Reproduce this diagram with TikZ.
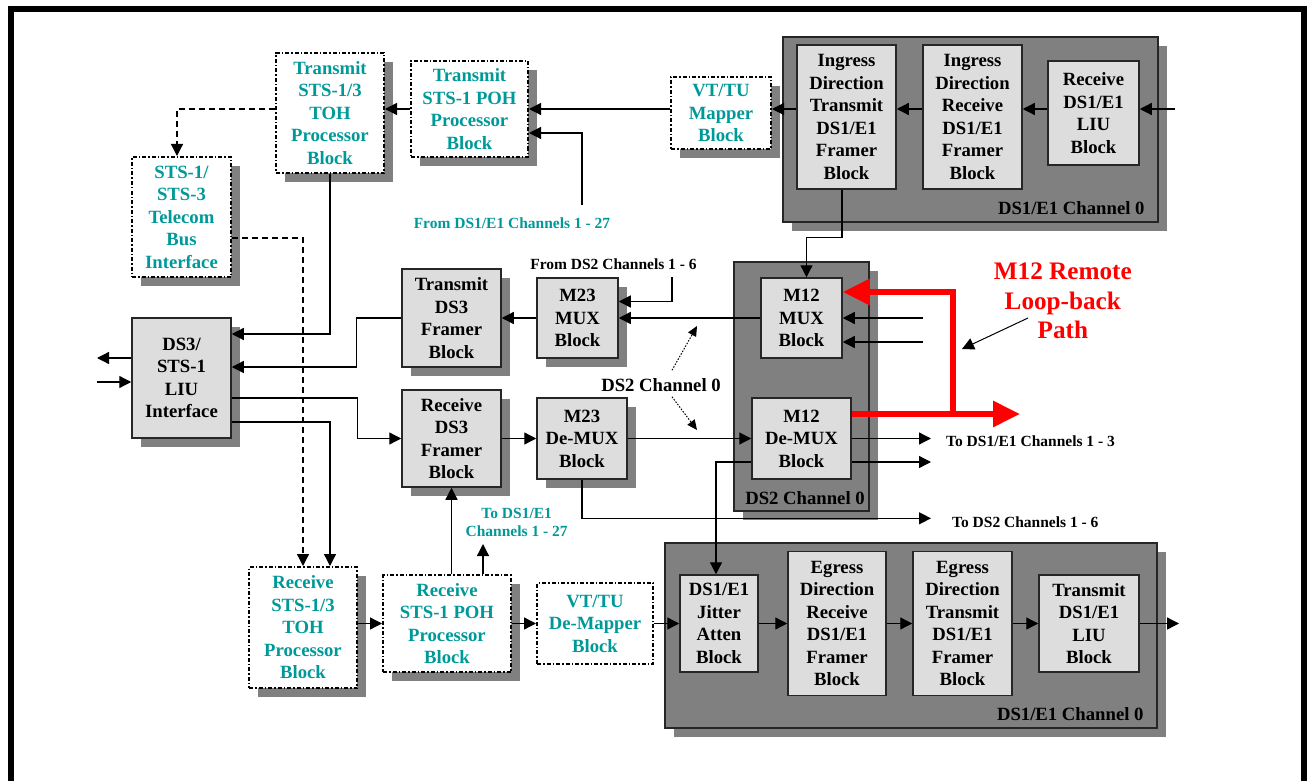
\documentclass[tikz,border=0pt]{standalone}
\usepackage{fontspec}
\setmainfont{Liberation Serif}
\usetikzlibrary{arrows.meta,shadows}

\definecolor{boxgray}{RGB}{221,221,221}
\definecolor{grpgray}{RGB}{128,128,128}
\definecolor{telteal}{RGB}{0,153,153}

\newcommand{\blockfont}{\fontsize{18.7}{22.5}\selectfont\bfseries}
\newcommand{\notefont}{\fontsize{15.5}{18.7}\selectfont\bfseries}
\newcommand{\loopfont}{\fontsize{25.2}{29.5}\selectfont\bfseries}

\tikzset{
  blk/.style={draw=black!85, line width=1.5pt, fill=boxgray, font=\blockfont, align=center, inner sep=0pt},
  tblk/.style={draw=black, line width=2pt, dash pattern=on 4pt off 2pt on 1.5pt off 2pt, fill=white,
    text=telteal, font=\blockfont, align=center, inner sep=0pt},
  shd/.style={drop shadow={shadow xshift=9pt, shadow yshift=-9pt, fill=grpgray, opacity=1}},
  grp/.style={draw=black!85, line width=1.5pt, fill=grpgray},
  lbl/.style={font=\blockfont, inner sep=0pt},
  note/.style={font=\notefont, inner sep=0pt},
  arr/.style={line width=1.3pt, -{Triangle[length=12pt,width=12pt]}},
  dasharr/.style={arr, dash pattern=on 6pt off 4pt},
  dotarr/.style={line width=1pt, dash pattern=on 1.5pt off 1.5pt, -{Triangle[length=10pt,width=9pt]}},
  loopline/.style={red, line width=6pt, -{Triangle[length=27pt,width=25pt]}},
}

\begin{document}
\begin{tikzpicture}[x=1pt,y=-1pt]
\useasboundingbox (0,0) rectangle (1309,781);
\draw[line width=6pt] (11,781) -- (11,9) -- (1304,9) -- (1304,781);

% ingress DS1/E1 channel
\node[grp, shd, minimum width=375pt, minimum height=185pt] (ingrp) at (970.5,129.5) {};
\node[lbl, anchor=east] (inglbl) at ([xshift=-14pt,yshift=15pt]ingrp.south east) {DS1/E1 Channel 0};
\node[blk, minimum width=99pt, minimum height=144pt] (ingtx) at (846.5,117) {Ingress\\Direction\\Transmit\\DS1/E1\\Framer\\Block};
\node[blk, minimum width=99pt, minimum height=144pt] (ingrx) at (972.5,117) {Ingress\\Direction\\Receive\\DS1/E1\\Framer\\Block};
\node[blk, minimum width=91pt, minimum height=104pt] (rxliu) at (1093.5,113) {Receive\\DS1/E1\\LIU\\Block};

% SONET side
\node[tblk, shd, minimum width=108pt, minimum height=120pt] (txtoh) at (330,113) {Transmit\\STS-1/3\\TOH\\Processor\\Block};
\node[tblk, shd, minimum width=99pt, minimum height=120pt] (bus) at (181.5,217) {STS-1/\\STS-3\\Telecom\\Bus\\Interface};
\node[tblk, shd, minimum width=117pt, minimum height=96pt] (txpoh) at (469.5,109) {Transmit\\STS-1 POH\\Processor\\Block};
\node[tblk, shd, minimum width=100pt, minimum height=72pt] (mapper) at (721,113) {VT/TU\\Mapper\\Block};
\node[tblk, shd, minimum width=108pt, minimum height=121pt] (rxtoh) at (303,627.5) {Receive\\STS-1/3\\TOH\\Processor\\Block};
\node[tblk, shd, minimum width=128pt, minimum height=97pt] (rxpoh) at (447,623.5) {Receive\\STS-1 POH\\Processor\\Block};
\node[tblk, minimum width=116pt, minimum height=81pt] (demapper) at (595,623.5) {VT/TU\\De-Mapper\\Block};

% DS3 side
\node[blk, shd, minimum width=99pt, minimum height=120pt] (liu) at (181.5,378) {DS3/\\STS-1\\LIU\\Interface};
\node[blk, shd, minimum width=99pt, minimum height=98pt] (txds3) at (451.5,318) {Transmit\\DS3\\Framer\\Block};
\node[blk, shd, minimum width=99pt, minimum height=97pt] (rxds3) at (451.5,438.5) {Receive\\DS3\\Framer\\Block};
\node[blk, shd, minimum width=81pt, minimum height=80pt] (m23mux) at (577.5,318) {M23\\MUX\\Block};
\node[blk, shd, minimum width=90pt, minimum height=81pt] (m23demux) at (582,438.5) {M23\\De-MUX\\Block};

% DS2 channel
\node[grp, shd, minimum width=135pt, minimum height=249pt] (ds2grp) at (801.5,386.5) {};
\node[lbl] (ds2grplbl) at ([xshift=3.5pt,yshift=14pt]ds2grp.south) {DS2 Channel 0};
\node[blk, minimum width=81pt, minimum height=80pt] (m12mux) at (801.5,318) {M12\\MUX\\Block};
\node[blk, minimum width=99pt, minimum height=81pt] (m12demux) at (801.5,438.5) {M12\\De-MUX\\Block};

% egress DS1/E1 channel
\node[grp, shd, minimum width=492pt, minimum height=185pt] (egrp) at (911,635.5) {};
\node[lbl, anchor=east] (eglbl) at ([xshift=-14pt,yshift=15pt]egrp.south east) {DS1/E1 Channel 0};
\node[blk, minimum width=78pt, minimum height=97pt] (jitter) at (719,623.5) {DS1/E1\\Jitter\\Atten\\Block};
\node[blk, minimum width=98pt, minimum height=144pt] (egrx) at (837,623.5) {Egress\\Direction\\Receive\\DS1/E1\\Framer\\Block};
\node[blk, minimum width=99pt, minimum height=144pt] (egtx) at (962.5,623.5) {Egress\\Direction\\Transmit\\DS1/E1\\Framer\\Block};
\node[blk, minimum width=100pt, minimum height=97pt] (txliu) at (1089,623.5) {Transmit\\DS1/E1\\LIU\\Block};

% free labels
\node[note, text=telteal] (fromds1lbl) at (512,223) {From DS1/E1 Channels 1 - 27};
\node[note] (fromds2lbl) at (613.5,264) {From DS2 Channels 1 - 6};
\node[lbl] (ds2lbl) at (661,385) {DS2 Channel 0};
\node[note, text=telteal, align=center] (tods1lbl) at (516.7,522.3) {To DS1/E1\\Channels 1 - 27};
\node[note, anchor=west] (to3lbl) at (946,441) {To DS1/E1 Channels 1 - 3};
\node[note, anchor=west] (tods2lbl) at (952,521.7) {To DS2 Channels 1 - 6};
\node[font=\loopfont, text=red, align=center, inner sep=0pt] (looplbl) at (1062.8,301) {M12 Remote\\Loop-back\\Path};

\coordinate (ingin) at (1175,109);
\coordinate (fromds1) at (582,205);
\coordinate (fromds2) at (672,277);
\coordinate (m12ina) at (923,318);
\coordinate (m12inb) at (923,342);
\coordinate (liuout) at (97,358);
\coordinate (liuin) at (97,382);
\coordinate (to3) at (931,438.5);
\coordinate (to3b) at (931,462);
\coordinate (tods2) at (931,518.3);
\coordinate (tods1) at (483,544);
\coordinate (egout) at (1179,623.5);
\coordinate (ds2up) at (697,326);
\coordinate (ds2dn) at (697,430);
\coordinate (loopend) at (1020,414);
\coordinate (loopturn) at (952.5,414);
\coordinate (ptrtail) at (1028,318);
\coordinate (ptrhead) at (962,349);

% transmit direction
\draw[arr] (ingin) -- (ingin -| rxliu.east);
\draw[arr] (ingin -| rxliu.west) -- (ingin -| ingrx.east);
\draw[arr] (ingin -| ingrx.west) -- (ingin -| ingtx.east);
\draw[arr] (ingin -| ingtx.west) -- (ingin -| mapper.east);
\draw[arr] (ingin -| mapper.west) -- (txpoh.east);
\draw[arr] (fromds1) |- ([yshift=-24pt]txpoh.east);
\draw[arr] (txpoh.west) -- (txpoh.west -| txtoh.east);
\draw[dasharr] ([yshift=4pt]txtoh.west) -| ([xshift=-4.5pt]bus.north);
\draw[arr] (txtoh.south) |- ([yshift=44pt]liu.east);
\draw[dasharr] ([yshift=-21pt]bus.east) -| (rxtoh.north);
\draw[arr] ([xshift=-4.5pt]ingtx.south) -- ++(0,48) -| ([xshift=5pt]m12mux.north);
\draw[arr] (m12ina) -- (m12ina -| m12mux.east);
\draw[arr] (m12inb) -- (m12inb -| m12mux.east);
\draw[arr] (m12mux.west) -- (m23mux.east);
\draw[arr] (fromds2) |- ([yshift=16.5pt]m23mux.east);
\draw[arr] (m23mux.west) -- (txds3.east);
\draw[arr] (txds3.west) -- ++(-45,0) |- ([yshift=11pt]liu.east);
\draw[arr] ([yshift=20pt]liu.west) -- (liuout);
\draw[arr] (liuin) -- (liuin -| liu.west);

% receive direction
\draw[arr] ([yshift=-20pt]liu.east) -- ++(126,0) |- (rxds3.west);
\draw[arr] ([yshift=-44pt]liu.east) -| ([xshift=27pt]rxtoh.north);
\draw[arr] (rxds3.east) -- (m23demux.west);
\draw[arr] (m23demux.east) -- (m12demux.west);
\draw[arr] (m23demux.south) |- (tods2);
\draw[arr] (m12demux.east) -- (to3);
\draw[arr] (to3b -| m12demux.east) -- (to3b);
\draw[arr] (to3b -| m12demux.west) -| ([xshift=-3pt]jitter.north);
\draw[arr] (rxtoh.east |- rxpoh.west) -- (rxpoh.west);
\draw[arr] (rxpoh.north -| rxds3.south) -- (rxds3.south);
\draw[arr] (tods1 |- rxpoh.north) -- (tods1);
\draw[arr] (rxpoh.east) -- (demapper.west);
\draw[arr] (demapper.east) -- (jitter.west);
\draw[arr] (jitter.east) -- (egrx.west);
\draw[arr] (egrx.east) -- (egtx.west);
\draw[arr] (egtx.east) -- (txliu.west);
\draw[arr] (txliu.east) -- (egout);

\draw[dotarr] ([xshift=11pt,yshift=8pt]ds2lbl.north) -- (ds2up);
\draw[dotarr] ([xshift=11pt,yshift=-5pt]ds2lbl.south) -- (ds2dn);

% remote loop-back
\draw[loopline] ([yshift=24.5pt]m12demux.east) -- (loopend);
\draw[loopline] (loopturn) |- ([yshift=26pt]m12mux.east);
\draw[arr, line width=1pt] (ptrtail) -- (ptrhead);
\end{tikzpicture}
\end{document}
